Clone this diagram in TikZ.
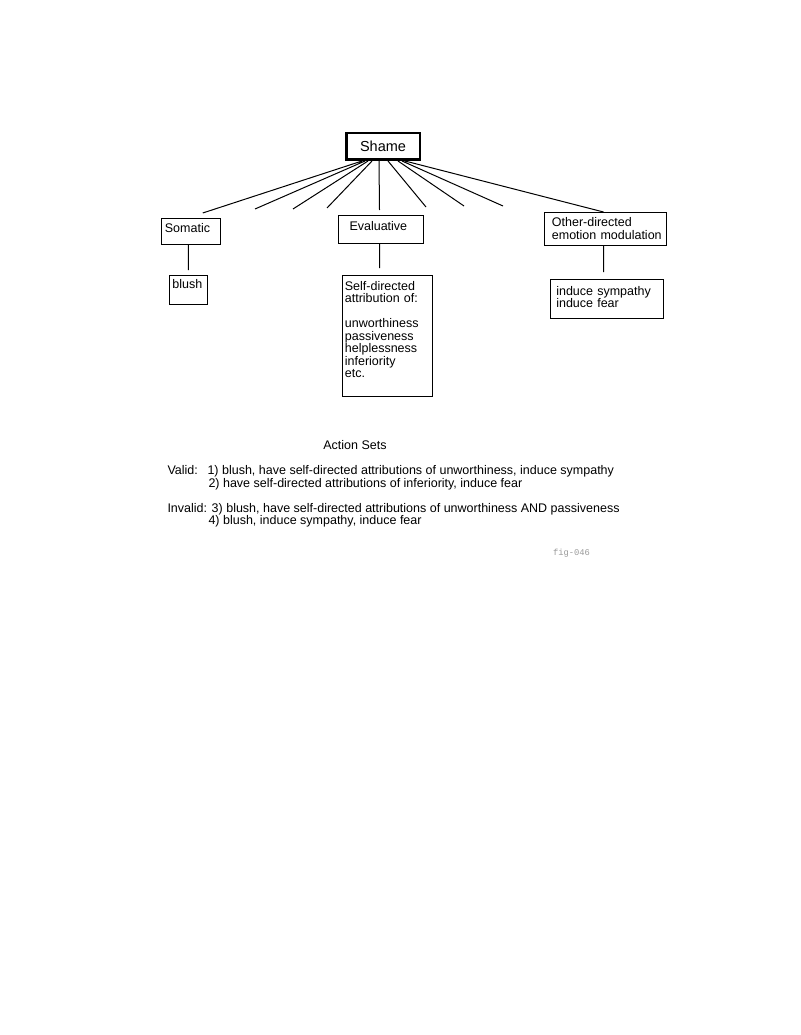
\documentclass[tikz,border=0pt]{standalone}
\usepackage{fontspec}
\setmainfont{Liberation Sans}
\newfontfamily\figfont{Liberation Mono}
\usepackage{tikz}
\definecolor{gray400}{HTML}{9A9A9A}
\tikzstyle{box}=[draw=black, line width=1pt, anchor=north west, align=left, text height=9pt, font=\fontsize{12.5}{12.5}\selectfont]
\tikzstyle{rootbox}=[draw=black, line width=2.5pt, inner sep=0pt, minimum width=73.5pt, minimum height=26.5pt, font=\fontsize{14.5}{14.5}\selectfont]
\tikzstyle{setline}=[anchor=base west, inner sep=0pt, font=\fontsize{12.5}{12.5}\selectfont]

\begin{document}
\begin{tikzpicture}[x=1pt, y=-1pt, line width=1pt]
			\path[fill=white, use as bounding box] (0,0) rectangle (800,1035);
			\node[rootbox] (shame) at (383,146.5) {Shame};
			\node[box, inner xsep=3.4pt, inner ysep=5pt, text width=52.2pt, text depth=7pt] (somatic) at (161,218) {Somatic};
			\node[box, inner xsep=11pt, inner ysep=6.5pt, text width=63pt, text depth=6pt] (eval) at (338,214.5) {Evaluative};
			\node[box, inner xsep=7.4pt, inner ysep=5pt, text width=107.2pt, text depth=14pt] (other) at (544,212) {Other-directed\\\mbox{emotion modulation}};
			\node[box, inner xsep=3.4pt, inner ysep=4.5pt, text width=31.7pt, text depth=11pt] (blush) at (168.5,274.5) {blush};
			\node[box, inner xsep=2.4pt, inner ysep=5.5pt, text width=85.2pt, text depth=101pt] (selfattr) at (342,275) {Self-directed\\attribution of:\\[12.5pt]unworthiness\\passiveness\\helplessness\\inferiority\\etc.};
			\node[box, inner xsep=5.8pt, inner ysep=6.5pt, text width=101.4pt, text depth=17pt] (induce) at (550,279) {induce sympathy\\induce fear};
			% free ends of the spokes
			\coordinate (e2) at (255,209);
			\coordinate (e3) at (293,209);
			\coordinate (e4) at (327,208);
			\coordinate (e6) at (426,207);
			\coordinate (e7) at (464,206);
			\coordinate (e8) at (503,206);
			\path[draw=black]
				([xshift=-21pt]shame.south) -- ([xshift=11.75pt,yshift=5pt]somatic.north)
				([xshift=-18pt]shame.south) -- (e2)
				([xshift=-15pt]shame.south) -- (e3)
				([xshift=-11pt]shame.south) -- (e4)
				([xshift=-4pt]shame.south) -- ([xshift=-1.5pt,yshift=4.5pt]eval.north)
				([xshift=5pt]shame.south) -- (e6)
				([xshift=15pt]shame.south) -- (e7)
				([xshift=19pt]shame.south) -- (e8)
				([xshift=22pt]shame.south) -- ([xshift=-2pt]other.north);
			\path[draw=black]
				(somatic.south -| blush.north) -- ([yshift=4.5pt]blush.north)
				([xshift=-1.5pt]eval.south) -- ([xshift=-8pt,yshift=7pt]selfattr.north)
				([xshift=-2pt]other.south) -- ([xshift=-3.5pt,yshift=7pt]induce.north);
			% action sets
			\node[anchor=base, inner sep=0pt, font=\fontsize{12.5}{12.5}\selectfont] (title) at (355,449.5) {Action Sets};
			\node[setline] (valid1) at (167,474.5) {Valid:\hspace{9.7pt}1) blush, have self-directed attributions of unworthiness, induce sympathy};
			\node[setline] (valid2) at (208,487) {2) have self-directed attributions of inferiority, induce fear};
			\node[setline] (invalid3) at (167,512) {Invalid: 3) blush, have self-directed attributions of unworthiness AND passiveness};
			\node[setline] (invalid4) at (208,524.5) {4) blush, induce sympathy, induce fear};
			\node[anchor=base, inner sep=0pt, text=gray400, font=\figfont\fontsize{8.8}{8.8}\selectfont] (fig) at (571.5,555) {fig-046};
		\end{tikzpicture}
\end{document}
